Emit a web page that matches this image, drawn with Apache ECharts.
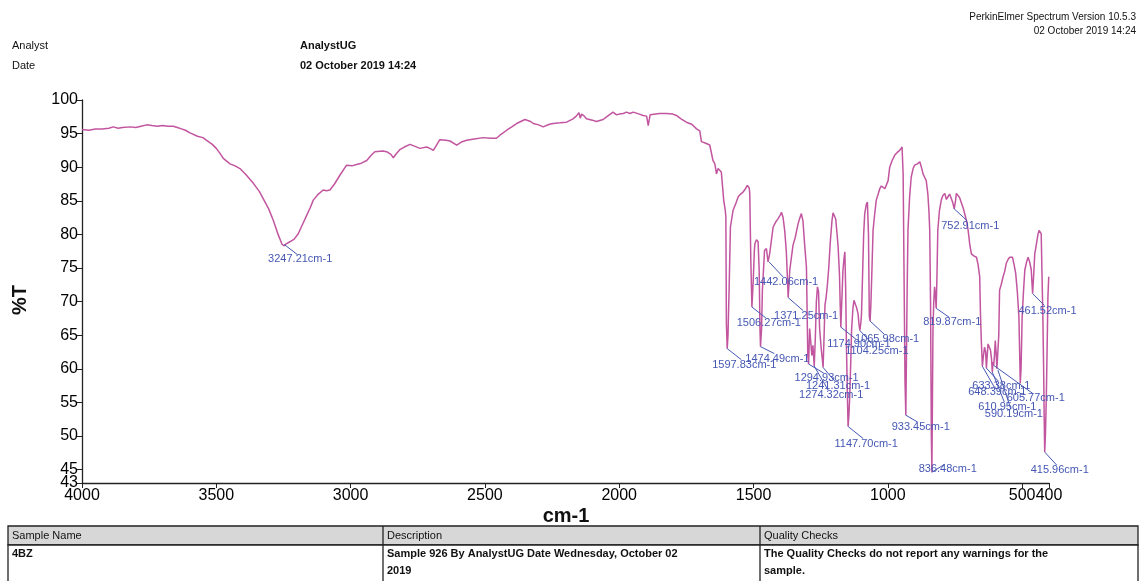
<!DOCTYPE html>
<html>
<head>
<meta charset="utf-8">
<script src="https://cdn.jsdelivr.net/npm/echarts@6.0.0/dist/echarts.min.js"></script>
<style>
  html, body { margin: 0; padding: 0; background: #fff; }
  #chart { width: 1142px; height: 581px; }
</style>
</head>
<body>
<div id="chart"></div>
<script>
// IR spectrum
var wavenumber = [
  4000, 3975, 3950, 3925, 3900, 3884, 3865, 3850, 3820, 3800,
  3780, 3759, 3740, 3720, 3700, 3680, 3660, 3645, 3630, 3615,
  3598, 3570, 3550, 3536, 3515, 3500, 3487, 3474, 3449, 3430,
  3412, 3390, 3375, 3362, 3340, 3325, 3305, 3288, 3270, 3255,
  3247, 3240, 3226, 3210, 3195, 3180, 3164, 3150, 3139, 3120,
  3102, 3090, 3077, 3060, 3040, 3015, 2995, 2978, 2960, 2940,
  2925, 2910, 2880, 2866, 2850, 2841, 2830, 2817, 2800, 2779,
  2760, 2742, 2717, 2705, 2692, 2680, 2668, 2645, 2630, 2605,
  2585, 2568, 2540, 2506, 2480, 2457, 2440, 2419, 2400, 2382,
  2351, 2330, 2320, 2300, 2283, 2260, 2246, 2220, 2196, 2172,
  2160, 2150, 2145, 2140, 2130, 2122, 2100, 2085, 2060, 2047,
  2023, 2010, 2000, 1985, 1973, 1960, 1948, 1925, 1911, 1898,
  1892, 1885, 1880, 1850, 1824, 1800, 1787, 1770, 1750, 1730,
  1712, 1700, 1694, 1680, 1663, 1651, 1644, 1638, 1632, 1625,
  1620, 1615, 1611, 1605, 1603, 1601, 1598, 1595, 1591, 1586,
  1576, 1565, 1557, 1548, 1539, 1530, 1523, 1516, 1514, 1510,
  1506, 1501, 1497, 1495, 1489, 1483, 1479, 1476, 1474, 1470,
  1467, 1459, 1452, 1446, 1442, 1440, 1427, 1418, 1409, 1400,
  1396, 1390, 1384, 1378, 1375, 1371, 1365, 1353, 1345, 1334,
  1328, 1322, 1316, 1309, 1303, 1298, 1295, 1291, 1287, 1283,
  1279, 1274, 1270, 1266, 1262, 1258, 1254, 1248, 1244, 1241,
  1238, 1234, 1230, 1225, 1220, 1214, 1208, 1204, 1198, 1194,
  1190, 1185, 1180, 1177, 1175, 1171, 1167, 1163, 1160, 1157,
  1154, 1150, 1148, 1145, 1142, 1138, 1135, 1130, 1126, 1120,
  1117, 1111, 1107, 1104, 1100, 1098, 1094, 1090, 1086, 1080,
  1076, 1072, 1069, 1066, 1063, 1059, 1055, 1049, 1043, 1036,
  1030, 1024, 1018, 1011, 1005, 999, 993, 984, 974, 965,
  956, 950, 947, 943, 940, 936, 933, 931, 928, 925,
  919, 913, 906, 900, 890, 881, 875, 869, 863, 857,
  851, 847, 844, 841, 838, 836, 834, 832, 829, 826,
  823, 820, 817, 814, 808, 801, 795, 788, 782, 776,
  770, 764, 758, 753, 748, 745, 739, 733, 727, 720,
  714, 707, 701, 695, 689, 680, 670, 664, 658, 655,
  652, 648, 644, 640, 636, 633, 630, 627, 622, 618,
  614, 611, 608, 606, 603, 600, 597, 594, 590, 587,
  584, 578, 571, 565, 559, 552, 546, 540, 536, 530,
  524, 518, 512, 509, 507, 504, 500, 495, 490, 484,
  478, 472, 466, 463, 461, 457, 453, 447, 441, 437,
  433, 429, 426, 423, 420, 418, 416, 413, 410, 407,
  404, 401
];
var transmittance = [
  95.6, 95.5, 95.7, 95.7, 95.8, 96.0, 95.8, 95.9, 96.0, 95.9,
  96.1, 96.3, 96.2, 96.1, 96.2, 96.1, 96.1, 95.9, 95.7, 95.5,
  95.1, 94.6, 94.4, 94.0, 93.4, 92.8, 92.1, 91.3, 90.5, 90.2,
  89.8, 88.9, 88.2, 87.6, 86.4, 85.3, 83.8, 82.1, 80.0, 78.5,
  78.3, 78.6, 78.9, 79.3, 80.1, 81.4, 82.8, 84.0, 85.1, 86.0,
  86.6, 86.5, 86.6, 87.5, 88.8, 90.3, 90.2, 90.4, 90.6, 91.0,
  91.7, 92.3, 92.4, 92.3, 91.9, 91.4, 92.0, 92.6, 93.0, 93.4,
  93.1, 92.8, 93.0, 92.8, 92.5, 93.3, 94.1, 94.0, 93.9, 93.3,
  93.8, 94.0, 94.2, 94.4, 94.3, 94.3, 94.9, 95.5, 96.0, 96.5,
  97.1, 96.8, 96.5, 96.3, 96.0, 96.4, 96.5, 96.6, 96.7, 97.2,
  97.6, 98.1, 97.3, 97.9, 97.6, 97.2, 97.0, 96.8, 97.1, 97.5,
  98.2, 97.8, 97.9, 98.0, 98.2, 98.0, 98.2, 97.9, 97.7, 97.6,
  96.2, 97.8, 98.0, 98.0, 98.0, 97.9, 97.7, 97.2, 96.7, 96.4,
  95.7, 95.4, 93.8, 93.6, 93.3, 91.0, 90.5, 89.0, 89.8, 89.6,
  89.3, 87.0, 85.1, 83.5, 82.6, 66.7, 63.0, 65.0, 71.7, 81.1,
  83.6, 84.7, 85.6, 86.0, 86.3, 86.8, 87.3, 86.9, 86.1, 76.0,
  69.2, 73.2, 77.5, 78.6, 79.2, 78.9, 74.7, 66.0, 63.3, 66.0,
  71.7, 77.6, 77.9, 75.9, 76.1, 77.1, 81.1, 81.8, 82.3, 82.9,
  83.3, 82.5, 80.6, 77.5, 74.7, 70.6, 74.7, 78.4, 79.5, 81.6,
  82.4, 83.1, 82.0, 78.1, 75.1, 62.0, 60.7, 66.0, 64.0, 62.0,
  63.5, 60.4, 64.5, 70.0, 72.2, 71.5, 66.0, 63.0, 61.5, 60.2,
  64.0, 69.5, 70.5, 72.5, 75.0, 79.0, 82.0, 83.2, 83.0, 82.3,
  80.5, 78.1, 74.0, 69.0, 66.2, 70.5, 74.7, 76.5, 77.4, 72.0,
  63.2, 55.0, 51.4, 53.0, 55.8, 61.0, 65.7, 69.0, 70.2, 69.5,
  69.2, 68.2, 66.5, 65.7, 67.0, 68.2, 74.0, 80.0, 83.1, 84.5,
  84.8, 80.0, 67.8, 67.1, 69.7, 75.0, 80.6, 83.0, 85.1, 86.0,
  86.8, 87.2, 87.1, 86.8, 86.6, 88.0, 90.0, 91.0, 91.8, 92.2,
  92.5, 92.6, 93.0, 89.0, 75.7, 58.0, 53.1, 60.8, 72.0, 80.6,
  85.5, 88.5, 89.8, 90.3, 90.5, 90.8, 90.0, 89.0, 88.5, 88.0,
  86.0, 83.5, 80.6, 70.0, 50.0, 44.6, 55.0, 65.7, 70.0, 72.2,
  71.0, 69.0, 74.0, 80.6, 83.5, 85.1, 85.8, 86.1, 85.2, 85.6,
  86.0, 85.8, 84.7, 83.8, 85.0, 86.1, 86.1, 85.5, 84.8, 84.0,
  83.1, 82.0, 80.6, 78.5, 77.1, 76.8, 76.6, 75.5, 73.7, 68.0,
  64.2, 60.4, 62.0, 63.2, 62.5, 60.1, 62.0, 63.7, 63.5, 62.8,
  61.5, 59.5, 61.0, 60.5, 62.0, 64.2, 62.5, 60.0, 59.8, 65.0,
  71.7, 72.5, 73.7, 74.5, 75.7, 76.3, 76.6, 76.5, 76.6, 75.5,
  74.2, 71.5, 67.7, 62.0, 57.8, 60.0, 67.7, 71.5, 74.7, 75.8,
  76.6, 75.9, 74.7, 72.5, 71.2, 74.0, 77.1, 78.5, 80.0, 80.6,
  80.5, 80.1, 74.0, 68.2, 60.0, 53.0, 47.6, 50.5, 55.8, 63.0,
  70.7, 73.7
];

// picked peaks
var peakWavenumber = [
  3247.21, 1597.83, 1506.27, 1474.49, 1442.06, 1371.25, 1294.93, 1274.32,
  1241.31, 1174.90, 1147.70, 1104.25, 1065.98, 933.45, 836.48, 819.87,
  752.91, 648.39, 633.38, 610.95, 605.77, 590.19, 461.52, 415.96
];
var peakTransmittance = [
  78.5, 63.0, 69.2, 63.3, 75.9, 70.6, 60.7, 60.4,
  60.2, 66.2, 51.4, 65.7, 67.1, 53.1, 44.6, 69.0,
  83.8, 60.4, 60.1, 59.5, 60.5, 59.8, 71.2, 47.6
];

var xTicks = [4000, 3500, 3000, 2500, 2000, 1500, 1000, 500, 400];
var yTicks = [43, 45, 50, 55, 60, 65, 70, 75, 80, 85, 90, 95, 100];
var yMinLabel = [43];   // drawn on its own axis so it does not knock out "45"

// where each peak label sits, in px from its peak (label centre)
var labelShift = [
  [16, 15], [17, 16], [17, 16], [17, 12], [17, 20], [18, 18], [18, 14], [17, 29],
  [15, 19], [18, 17], [18, 17], [17, 20], [17, 18], [15, 12], [16, -3], [16, 14],
  [16, 17], [15, 26], [15, 18], [15, 35], [42, 33], [16, 44], [15, 17], [15, 18]
];

var lineData = wavenumber.map(function (w, i) { return [w, transmittance[i]]; });
var peakData = peakWavenumber.map(function (w, i) { return [w, peakTransmittance[i]]; });

var FONT = '"Liberation Sans", Arial, sans-serif';
var LABEL_BLUE = '#4557b3';

var chart = echarts.init(document.getElementById('chart'));

function renderPeak(params, api) {
  var p = api.coord([api.value(0), api.value(1)]);
  var s = labelShift[params.dataIndex];
  var cx = p[0] + s[0], cy = p[1] + s[1];
  return {
    type: 'group',
    children: [
      {
        type: 'line',
        shape: { x1: p[0], y1: p[1], x2: cx - 3, y2: cy - 5 },
        style: { stroke: LABEL_BLUE, lineWidth: 1 }
      },
      {
        type: 'text',
        x: cx, y: cy,
        style: {
          text: peakWavenumber[params.dataIndex].toFixed(2) + 'cm-1',
          fill: LABEL_BLUE,
          font: '11px ' + FONT,
          align: 'center',
          verticalAlign: 'middle'
        }
      }
    ]
  };
}

function txt(x, y, s, size, weight, align) {
  return {
    type: 'text', x: x, y: y, silent: true,
    style: {
      text: s, fill: '#111',
      font: (weight || 'normal') + ' ' + size + 'px ' + FONT,
      align: align || 'left', verticalAlign: 'middle'
    }
  };
}

var yLabelStyle = { color: '#000', fontSize: 16, fontFamily: FONT, margin: 4 };

var option = {
  backgroundColor: '#fff',
  animation: false,
  grid: { left: 82, right: 93, top: 100, bottom: 98 },
  xAxis: {
    type: 'value',
    inverse: true,
    min: 400,
    max: 4000,
    axisLine: { lineStyle: { color: '#222', width: 1.3 } },
    axisTick: { show: true, length: 5, customValues: xTicks, lineStyle: { color: '#222' } },
    axisLabel: {
      customValues: xTicks, color: '#000', fontSize: 16, fontFamily: FONT, margin: 5,
      hideOverlap: false,
      formatter: function (v) { return String(v); }
    },
    splitLine: { show: false }
  },
  yAxis: [
    {
      type: 'value',
      min: 43,
      max: 100,
      axisLine: { show: true, lineStyle: { color: '#222', width: 1.3 } },
      axisTick: { show: true, length: 5, customValues: yTicks, lineStyle: { color: '#222' } },
      axisLabel: Object.assign({ customValues: yTicks.slice(1), showMinLabel: true }, yLabelStyle),
      splitLine: { show: false }
    },
    {
      type: 'value',
      position: 'left',
      min: 43,
      max: 100,
      axisLine: { show: false },
      axisTick: { show: false },
      axisLabel: Object.assign({ customValues: yMinLabel, showMinLabel: true }, yLabelStyle),
      splitLine: { show: false }
    }
  ],
  series: [
    {
      type: 'line',
      data: lineData,
      showSymbol: false,
      lineStyle: { color: '#c2559f', width: 1.5 },
      z: 2
    },
    {
      type: 'custom',
      data: peakData,
      renderItem: renderPeak,
      clip: false,
      z: 3
    }
  ],
  graphic: [
    txt(1136, 17, 'PerkinElmer Spectrum Version 10.5.3', 10, 'normal', 'right'),
    txt(1136, 31, '02 October 2019 14:24', 10, 'normal', 'right'),
    txt(12, 46, 'Analyst', 11),
    txt(12, 66, 'Date', 11),
    txt(300, 46, 'AnalystUG', 11, 'bold'),
    txt(300, 66, '02 October 2019 14:24', 11, 'bold'),
    {
      type: 'text', x: 20, y: 300, rotation: Math.PI / 2, silent: true,
      style: { text: '%T', fill: '#111', font: 'bold 20px ' + FONT, align: 'center', verticalAlign: 'middle' }
    },
    txt(566, 516, 'cm-1', 20, 'bold', 'center'),
    // info table
    { type: 'rect', shape: { x: 8, y: 526, width: 1130, height: 19 }, style: { fill: '#d7d7d7', stroke: '#222', lineWidth: 1.3 } },
    { type: 'rect', shape: { x: 8, y: 545, width: 1130, height: 40 }, style: { fill: '#fff', stroke: '#222', lineWidth: 1.3 } },
    { type: 'line', shape: { x1: 383, y1: 526, x2: 383, y2: 585 }, style: { stroke: '#222', lineWidth: 1.3 } },
    { type: 'line', shape: { x1: 760, y1: 526, x2: 760, y2: 585 }, style: { stroke: '#222', lineWidth: 1.3 } },
    txt(12, 536, 'Sample Name', 11),
    txt(387, 536, 'Description', 11),
    txt(764, 536, 'Quality Checks', 11),
    txt(12, 554, '4BZ', 11, 'bold'),
    txt(387, 554, 'Sample 926 By AnalystUG Date Wednesday, October 02', 11, 'bold'),
    txt(387, 571, '2019', 11, 'bold'),
    txt(764, 554, 'The Quality Checks do not report any warnings for the', 11, 'bold'),
    txt(764, 571, 'sample.', 11, 'bold')
  ]
};

chart.setOption(option);
</script>
</body>
</html>
